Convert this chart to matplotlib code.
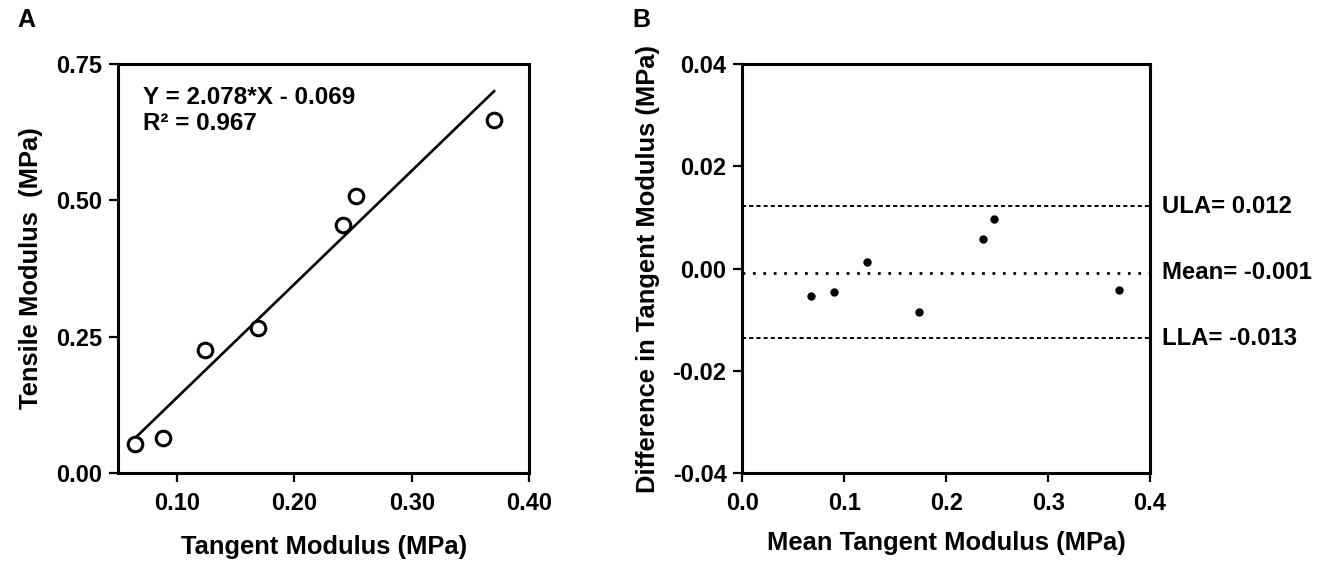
import numpy as np
import matplotlib
matplotlib.use('Agg')
import matplotlib.pyplot as plt
import matplotlib.transforms as mtransforms

# panel A: tensile vs tangent modulus
tangent = [0.064, 0.088, 0.124, 0.169, 0.241, 0.252, 0.370]
tensile = [0.053, 0.065, 0.225, 0.266, 0.455, 0.507, 0.647]
slope = 2.078
intercept = -0.069
eq_text = 'Y = 2.078*X - 0.069\nR² = 0.967'

# panel B: Bland-Altman
mean_tangent = [0.067, 0.090, 0.122, 0.173, 0.236, 0.247, 0.370]
diff_tangent = [-0.0053, -0.0046, 0.0012, -0.0084, 0.0058, 0.0097, -0.0041]
ula = 0.0122
bias = -0.0008
lla = -0.0136
ula_text = 'ULA= 0.012'
bias_text = 'Mean= -0.001'
lla_text = 'LLA= -0.013'

xticks_a = [0.10, 0.20, 0.30, 0.40]
yticks_a = [0.00, 0.25, 0.50, 0.75]
xticks_b = [0.0, 0.1, 0.2, 0.3, 0.4]
yticks_b = [-0.04, -0.02, 0.00, 0.02, 0.04]


def style_axes(ax):
    for s in ax.spines.values():
        s.set_linewidth(2.2)
    ax.tick_params(direction='out', length=6.5, width=1.6, labelsize=17, pad=5)
    ax.tick_params(axis='x', top=False, pad=7)
    ax.tick_params(axis='y', right=False)


def main():
    plt.rcParams['font.family'] = ['Liberation Sans', 'DejaVu Sans']
    plt.rcParams['font.weight'] = 'bold'
    plt.rcParams['axes.labelweight'] = 'bold'

    fig = plt.figure(figsize=(13.28, 5.63), dpi=100)
    ax1 = fig.add_axes([0.0891, 0.1593, 0.3095, 0.7274])
    ax2 = fig.add_axes([0.5591, 0.1593, 0.3069, 0.7274])

    # A
    ax1.plot(tangent, tensile, 'o', ms=10.5, mfc='white', mec='black', mew=2.2,
             zorder=3, clip_on=False)
    xf = np.array([min(tangent), max(tangent)])
    ax1.plot(xf, slope * xf + intercept, color='black', lw=1.9, zorder=2)
    ax1.set_xlim(0.05, 0.40)
    ax1.set_ylim(0.0, 0.75)
    ax1.set_xticks(xticks_a)
    ax1.set_xticklabels(['%.2f' % v for v in xticks_a])
    ax1.set_yticks(yticks_a)
    ax1.set_yticklabels(['%.2f' % v for v in yticks_a])
    style_axes(ax1)
    ax1.set_xlabel('Tangent Modulus (MPa)', fontsize=18.4, va='center')
    ax1.set_ylabel('Tensile Modulus  (MPa)', fontsize=18.4, va='center')
    ax1.xaxis.set_label_coords(0.5, -0.179)
    ax1.yaxis.set_label_coords(-0.2136, 0.5)
    ax1.text(0.061, 0.945, eq_text, transform=ax1.transAxes, fontsize=17.5,
             fontweight='bold', va='top', ha='left', linespacing=1.15)

    # B
    ax2.plot(mean_tangent, diff_tangent, 'o', ms=5, color='black', zorder=3)
    ax2.axhline(ula, color='black', lw=1.4, ls=(0, (2.1, 1.6)), dash_capstyle='butt')
    ax2.axhline(bias, color='black', lw=2.0, ls=(0, (1, 2.75)), dash_capstyle='butt')
    ax2.axhline(lla, color='black', lw=1.4, ls=(0, (2.1, 1.6)), dash_capstyle='butt')
    ax2.set_xlim(0.0, 0.4)
    ax2.set_ylim(-0.04, 0.04)
    ax2.set_xticks(xticks_b)
    ax2.set_xticklabels(['%.1f' % v for v in xticks_b])
    ax2.set_yticks(yticks_b)
    ax2.set_yticklabels(['%.2f' % v for v in yticks_b])
    style_axes(ax2)
    ax2.set_xlabel('Mean Tangent Modulus (MPa)', fontsize=18.4, va='center')
    ax2.set_ylabel('Difference in Tangent Modulus (MPa)', fontsize=18.4, va='center')
    ax2.xaxis.set_label_coords(0.5, -0.170)
    ax2.yaxis.set_label_coords(-0.232, 0.5)
    trans = mtransforms.blended_transform_factory(ax2.transAxes, ax2.transData)
    for yv, txt in [(ula, ula_text), (bias, bias_text), (lla, lla_text)]:
        ax2.text(1.03, yv, txt, transform=trans, fontsize=17.2, fontweight='bold',
                 va='center', ha='left')

    fig.text(17 / 1328, 1 - 8 / 563, 'A', fontsize=18, fontweight='bold', va='top', ha='left')
    fig.text(632 / 1328, 1 - 8 / 563, 'B', fontsize=18, fontweight='bold', va='top', ha='left')

    fig.savefig('out.png', dpi=100)
    return 0


if __name__ == "__main__":
    main()
